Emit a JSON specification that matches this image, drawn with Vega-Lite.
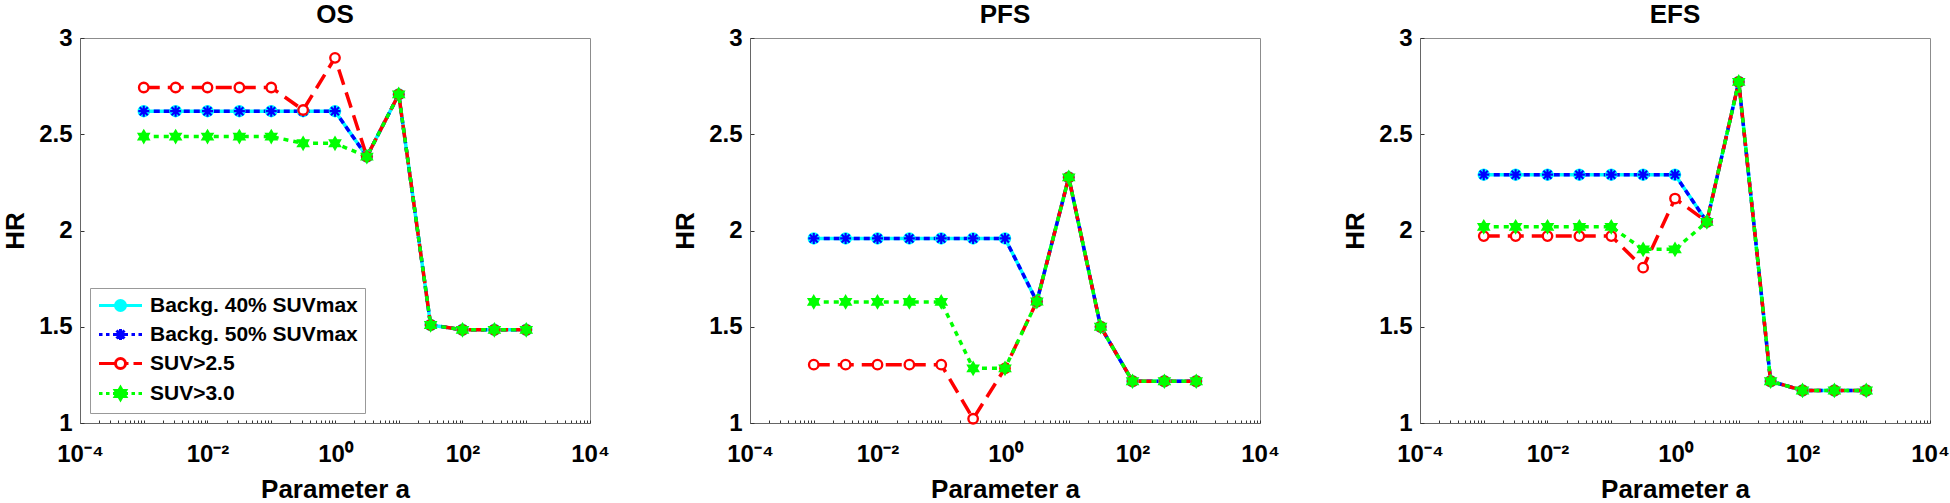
{
  "$schema": "https://vega.github.io/schema/vega-lite/v6.json",
  "padding": {"left": 2, "top": 1, "right": 5, "bottom": 2},
  "background": "white",
  "config": {
    "font": "Liberation Sans",
    "view": {"stroke": "#8c8c8c", "strokeWidth": 1},
    "axis": {"grid": false, "labelFont": "Liberation Sans", "labelFontWeight": "bold", "labelColor": "black", "titleFont": "Liberation Sans", "titleFontWeight": "bold", "titleColor": "black", "domainColor": "#666666", "tickColor": "#333333", "tickWidth": 1},
    "title": {"font": "Liberation Sans", "fontWeight": "bold", "fontSize": 26, "color": "black", "offset": -2}
  },
  "datasets": {
    "OS": [
      {"s":"Backg. 40% SUVmax","a":0.001,"hr":2.62},{"s":"Backg. 40% SUVmax","a":0.0031623,"hr":2.62},{"s":"Backg. 40% SUVmax","a":0.01,"hr":2.62},{"s":"Backg. 40% SUVmax","a":0.031623,"hr":2.62},{"s":"Backg. 40% SUVmax","a":0.1,"hr":2.62},{"s":"Backg. 40% SUVmax","a":0.31623,"hr":2.62},{"s":"Backg. 40% SUVmax","a":1,"hr":2.62},{"s":"Backg. 40% SUVmax","a":3.1623,"hr":2.384},{"s":"Backg. 40% SUVmax","a":10,"hr":2.707},{"s":"Backg. 40% SUVmax","a":31.623,"hr":1.509},{"s":"Backg. 40% SUVmax","a":100,"hr":1.484},{"s":"Backg. 40% SUVmax","a":316.23,"hr":1.484},{"s":"Backg. 40% SUVmax","a":1000,"hr":1.484},
      {"s":"Backg. 50% SUVmax","a":0.001,"hr":2.62},{"s":"Backg. 50% SUVmax","a":0.0031623,"hr":2.62},{"s":"Backg. 50% SUVmax","a":0.01,"hr":2.62},{"s":"Backg. 50% SUVmax","a":0.031623,"hr":2.62},{"s":"Backg. 50% SUVmax","a":0.1,"hr":2.62},{"s":"Backg. 50% SUVmax","a":0.31623,"hr":2.62},{"s":"Backg. 50% SUVmax","a":1,"hr":2.62},{"s":"Backg. 50% SUVmax","a":3.1623,"hr":2.384},{"s":"Backg. 50% SUVmax","a":10,"hr":2.707},{"s":"Backg. 50% SUVmax","a":31.623,"hr":1.509},{"s":"Backg. 50% SUVmax","a":100,"hr":1.484},{"s":"Backg. 50% SUVmax","a":316.23,"hr":1.484},{"s":"Backg. 50% SUVmax","a":1000,"hr":1.484},
      {"s":"SUV>2.5","a":0.001,"hr":2.743},{"s":"SUV>2.5","a":0.0031623,"hr":2.743},{"s":"SUV>2.5","a":0.01,"hr":2.743},{"s":"SUV>2.5","a":0.031623,"hr":2.743},{"s":"SUV>2.5","a":0.1,"hr":2.743},{"s":"SUV>2.5","a":0.31623,"hr":2.626},{"s":"SUV>2.5","a":1,"hr":2.897},{"s":"SUV>2.5","a":3.1623,"hr":2.384},{"s":"SUV>2.5","a":10,"hr":2.707},{"s":"SUV>2.5","a":31.623,"hr":1.509},{"s":"SUV>2.5","a":100,"hr":1.484},{"s":"SUV>2.5","a":316.23,"hr":1.484},{"s":"SUV>2.5","a":1000,"hr":1.484},
      {"s":"SUV>3.0","a":0.001,"hr":2.488},{"s":"SUV>3.0","a":0.0031623,"hr":2.488},{"s":"SUV>3.0","a":0.01,"hr":2.488},{"s":"SUV>3.0","a":0.031623,"hr":2.488},{"s":"SUV>3.0","a":0.1,"hr":2.488},{"s":"SUV>3.0","a":0.31623,"hr":2.453},{"s":"SUV>3.0","a":1,"hr":2.453},{"s":"SUV>3.0","a":3.1623,"hr":2.384},{"s":"SUV>3.0","a":10,"hr":2.707},{"s":"SUV>3.0","a":31.623,"hr":1.509},{"s":"SUV>3.0","a":100,"hr":1.484},{"s":"SUV>3.0","a":316.23,"hr":1.484},{"s":"SUV>3.0","a":1000,"hr":1.484}
    ],
    "PFS": [
      {"s":"Backg. 40% SUVmax","a":0.001,"hr":1.959},{"s":"Backg. 40% SUVmax","a":0.0031623,"hr":1.959},{"s":"Backg. 40% SUVmax","a":0.01,"hr":1.959},{"s":"Backg. 40% SUVmax","a":0.031623,"hr":1.959},{"s":"Backg. 40% SUVmax","a":0.1,"hr":1.959},{"s":"Backg. 40% SUVmax","a":0.31623,"hr":1.959},{"s":"Backg. 40% SUVmax","a":1,"hr":1.959},{"s":"Backg. 40% SUVmax","a":3.1623,"hr":1.631},{"s":"Backg. 40% SUVmax","a":10,"hr":2.276},{"s":"Backg. 40% SUVmax","a":31.623,"hr":1.5},{"s":"Backg. 40% SUVmax","a":100,"hr":1.217},{"s":"Backg. 40% SUVmax","a":316.23,"hr":1.217},{"s":"Backg. 40% SUVmax","a":1000,"hr":1.217},
      {"s":"Backg. 50% SUVmax","a":0.001,"hr":1.959},{"s":"Backg. 50% SUVmax","a":0.0031623,"hr":1.959},{"s":"Backg. 50% SUVmax","a":0.01,"hr":1.959},{"s":"Backg. 50% SUVmax","a":0.031623,"hr":1.959},{"s":"Backg. 50% SUVmax","a":0.1,"hr":1.959},{"s":"Backg. 50% SUVmax","a":0.31623,"hr":1.959},{"s":"Backg. 50% SUVmax","a":1,"hr":1.959},{"s":"Backg. 50% SUVmax","a":3.1623,"hr":1.631},{"s":"Backg. 50% SUVmax","a":10,"hr":2.276},{"s":"Backg. 50% SUVmax","a":31.623,"hr":1.5},{"s":"Backg. 50% SUVmax","a":100,"hr":1.217},{"s":"Backg. 50% SUVmax","a":316.23,"hr":1.217},{"s":"Backg. 50% SUVmax","a":1000,"hr":1.217},
      {"s":"SUV>2.5","a":0.001,"hr":1.303},{"s":"SUV>2.5","a":0.0031623,"hr":1.303},{"s":"SUV>2.5","a":0.01,"hr":1.303},{"s":"SUV>2.5","a":0.031623,"hr":1.303},{"s":"SUV>2.5","a":0.1,"hr":1.303},{"s":"SUV>2.5","a":0.31623,"hr":1.022},{"s":"SUV>2.5","a":1,"hr":1.284},{"s":"SUV>2.5","a":3.1623,"hr":1.631},{"s":"SUV>2.5","a":10,"hr":2.276},{"s":"SUV>2.5","a":31.623,"hr":1.5},{"s":"SUV>2.5","a":100,"hr":1.217},{"s":"SUV>2.5","a":316.23,"hr":1.217},{"s":"SUV>2.5","a":1000,"hr":1.217},
      {"s":"SUV>3.0","a":0.001,"hr":1.629},{"s":"SUV>3.0","a":0.0031623,"hr":1.629},{"s":"SUV>3.0","a":0.01,"hr":1.629},{"s":"SUV>3.0","a":0.031623,"hr":1.629},{"s":"SUV>3.0","a":0.1,"hr":1.629},{"s":"SUV>3.0","a":0.31623,"hr":1.284},{"s":"SUV>3.0","a":1,"hr":1.284},{"s":"SUV>3.0","a":3.1623,"hr":1.631},{"s":"SUV>3.0","a":10,"hr":2.276},{"s":"SUV>3.0","a":31.623,"hr":1.5},{"s":"SUV>3.0","a":100,"hr":1.217},{"s":"SUV>3.0","a":316.23,"hr":1.217},{"s":"SUV>3.0","a":1000,"hr":1.217}
    ],
    "EFS": [
      {"s":"Backg. 40% SUVmax","a":0.001,"hr":2.29},{"s":"Backg. 40% SUVmax","a":0.0031623,"hr":2.29},{"s":"Backg. 40% SUVmax","a":0.01,"hr":2.29},{"s":"Backg. 40% SUVmax","a":0.031623,"hr":2.29},{"s":"Backg. 40% SUVmax","a":0.1,"hr":2.29},{"s":"Backg. 40% SUVmax","a":0.31623,"hr":2.29},{"s":"Backg. 40% SUVmax","a":1,"hr":2.29},{"s":"Backg. 40% SUVmax","a":3.1623,"hr":2.045},{"s":"Backg. 40% SUVmax","a":10,"hr":2.772},{"s":"Backg. 40% SUVmax","a":31.623,"hr":1.217},{"s":"Backg. 40% SUVmax","a":100,"hr":1.169},{"s":"Backg. 40% SUVmax","a":316.23,"hr":1.169},{"s":"Backg. 40% SUVmax","a":1000,"hr":1.169},
      {"s":"Backg. 50% SUVmax","a":0.001,"hr":2.29},{"s":"Backg. 50% SUVmax","a":0.0031623,"hr":2.29},{"s":"Backg. 50% SUVmax","a":0.01,"hr":2.29},{"s":"Backg. 50% SUVmax","a":0.031623,"hr":2.29},{"s":"Backg. 50% SUVmax","a":0.1,"hr":2.29},{"s":"Backg. 50% SUVmax","a":0.31623,"hr":2.29},{"s":"Backg. 50% SUVmax","a":1,"hr":2.29},{"s":"Backg. 50% SUVmax","a":3.1623,"hr":2.045},{"s":"Backg. 50% SUVmax","a":10,"hr":2.772},{"s":"Backg. 50% SUVmax","a":31.623,"hr":1.217},{"s":"Backg. 50% SUVmax","a":100,"hr":1.169},{"s":"Backg. 50% SUVmax","a":316.23,"hr":1.169},{"s":"Backg. 50% SUVmax","a":1000,"hr":1.169},
      {"s":"SUV>2.5","a":0.001,"hr":1.971},{"s":"SUV>2.5","a":0.0031623,"hr":1.971},{"s":"SUV>2.5","a":0.01,"hr":1.971},{"s":"SUV>2.5","a":0.031623,"hr":1.971},{"s":"SUV>2.5","a":0.1,"hr":1.971},{"s":"SUV>2.5","a":0.31623,"hr":1.807},{"s":"SUV>2.5","a":1,"hr":2.166},{"s":"SUV>2.5","a":3.1623,"hr":2.045},{"s":"SUV>2.5","a":10,"hr":2.772},{"s":"SUV>2.5","a":31.623,"hr":1.217},{"s":"SUV>2.5","a":100,"hr":1.169},{"s":"SUV>2.5","a":316.23,"hr":1.169},{"s":"SUV>2.5","a":1000,"hr":1.169},
      {"s":"SUV>3.0","a":0.001,"hr":2.019},{"s":"SUV>3.0","a":0.0031623,"hr":2.019},{"s":"SUV>3.0","a":0.01,"hr":2.019},{"s":"SUV>3.0","a":0.031623,"hr":2.019},{"s":"SUV>3.0","a":0.1,"hr":2.019},{"s":"SUV>3.0","a":0.31623,"hr":1.902},{"s":"SUV>3.0","a":1,"hr":1.902},{"s":"SUV>3.0","a":3.1623,"hr":2.045},{"s":"SUV>3.0","a":10,"hr":2.772},{"s":"SUV>3.0","a":31.623,"hr":1.217},{"s":"SUV>3.0","a":100,"hr":1.169},{"s":"SUV>3.0","a":316.23,"hr":1.169},{"s":"SUV>3.0","a":1000,"hr":1.169}
    ]
  },
  "spacing": 160,
  "bounds": "flush",
  "resolve": {
    "scale": {"color": "independent"},
    "legend": {"color": "independent"}
  },
  "hconcat": [
    {
      "width": 510, "height": 385,
      "title": {"text": "OS"},
      "data": {"name": "OS"},
      "layer": [
        {
          "mark": {"type": "line", "strokeWidth": 3.5},
          "encoding": {
            "x": {"field": "a", "type": "quantitative", "title": "Parameter a", "scale": {"type": "log", "domain": [0.0001, 10000], "nice": false},
              "axis": {"values": [0.0001,0.0002,0.0003,0.0004,0.0005,0.0006,0.0007,0.0008,0.0009,0.001,0.002,0.003,0.004,0.005,0.006,0.007,0.008,0.009,0.01,0.02,0.03,0.04,0.05,0.06,0.07,0.08,0.09,0.1,0.2,0.3,0.4,0.5,0.6,0.7,0.8,0.9,1,2,3,4,5,6,7,8,9,10,20,30,40,50,60,70,80,90,100,200,300,400,500,600,700,800,900,1000,2000,3000,4000,5000,6000,7000,8000,9000,10000],
                "labelExpr": "datum.value == 0.0001 ? '10⁻⁴' : datum.value == 0.01 ? '10⁻²' : datum.value == 1 ? '10⁰' : datum.value == 100 ? '10²' : datum.value == 10000 ? '10⁴' : ''",
                "labelOverlap": false, "labelFlush": false, "tickSize": -3, "labelPadding": 22, "labelFontSize": 24, "titleFontSize": 26, "titlePadding": 10}},
            "y": {"field": "hr", "type": "quantitative", "title": "HR", "scale": {"domain": [1, 3], "nice": false},
              "axis": {"values": [1, 1.5, 2, 2.5, 3], "format": "~g", "tickSize": -4, "labelPadding": 12, "labelFontSize": 24, "titleFontSize": 26, "titlePadding": 10}},
            "color": {"field": "s", "type": "nominal",
              "scale": {"domain": ["Backg. 40% SUVmax", "Backg. 50% SUVmax", "SUV>2.5", "SUV>3.0"], "range": ["#00ffff", "#0000ff", "#ff0000", "#00ff00"]},
              "legend": {"title": null, "orient": "bottom-left", "offset": 10, "padding": 7, "strokeColor": "#999999", "fillColor": "white",
                "labelFont": "Liberation Sans", "labelFontSize": 21, "labelFontWeight": "bold", "labelColor": "black", "labelLimit": 500,
                "symbolSize": 100, "symbolStrokeWidth": 2.5, "symbolOffset": 13, "labelOffset": 19, "rowPadding": 6,
                "encode": {"symbols": {"update": {
                  "shape": {"signal": "datum.value === 'SUV>2.5' ? 'M-4.3,0L-1,0M1,0L1.6,0M2.6,0L4.3,0M-1,0A1,1,0,1,0,1,0A1,1,0,1,0,-1,0Z' : datum.value === 'SUV>3.0' ? 'M-4.3,0L-3.6,0M-2.9,0L-2.2,0M-1.5,0L-1,0M1,0L1.5,0M2.2,0L2.9,0M3.6,0L4.3,0M0,-1.2L0.35,-0.6L1.04,-0.6L0.69,0L1.04,0.6L0.35,0.6L0,1.2L-0.35,0.6L-1.04,0.6L-0.69,0L-1.04,-0.6L-0.35,-0.6Z' : datum.value === 'Backg. 50% SUVmax' ? 'M-4.3,0L-3.6,0M-2.9,0L-2.2,0M-1.5,0L-1.1,0M1.1,0L1.5,0M2.2,0L2.9,0M3.6,0L4.3,0M-1.1,0L1.1,0M0,-1.1L0,1.1M-0.8,-0.8L0.8,0.8M-0.8,0.8L0.8,-0.8' : 'M-4.3,0L4.3,0M-1,0A1,1,0,1,0,1,0A1,1,0,1,0,-1,0Z'"},
                  "fill": {"signal": "datum.value === 'SUV>2.5' ? '#ffffff' : datum.value === 'SUV>3.0' ? '#00ff00' : datum.value === 'Backg. 50% SUVmax' ? '#0000ff' : '#00ffff'"},
                  "stroke": {"signal": "datum.value === 'SUV>2.5' ? '#ff0000' : datum.value === 'SUV>3.0' ? '#00ff00' : datum.value === 'Backg. 50% SUVmax' ? '#0000ff' : '#00ffff'"},
                  "strokeWidth": {"value": 3},
                  "opacity": {"value": 1}
                }}}}},
            "strokeDash": {"field": "s", "type": "nominal",
              "scale": {"domain": ["Backg. 40% SUVmax", "Backg. 50% SUVmax", "SUV>2.5", "SUV>3.0"], "range": [[1, 0], [6, 4], [16, 8], [5, 5]]}, "legend": null}
          }
        },
        {
          "mark": {"type": "point", "filled": true, "opacity": 1},
          "encoding": {
            "x": {"field": "a", "type": "quantitative"},
            "y": {"field": "hr", "type": "quantitative"},
            "shape": {"field": "s", "type": "nominal", "legend": null,
              "scale": {"domain": ["Backg. 40% SUVmax", "Backg. 50% SUVmax", "SUV>2.5", "SUV>3.0"], "range": ["circle", "M-1.1,0L1.1,0M0,-1.1L0,1.1M-0.8,-0.8L0.8,0.8M-0.8,0.8L0.8,-0.8", "circle", "M0,-1.2L0.35,-0.6L1.04,-0.6L0.69,0L1.04,0.6L0.35,0.6L0,1.2L-0.35,0.6L-1.04,0.6L-0.69,0L-1.04,-0.6L-0.35,-0.6Z"]}},
            "size": {"field": "s", "type": "nominal", "legend": null,
              "scale": {"domain": ["Backg. 40% SUVmax", "Backg. 50% SUVmax", "SUV>2.5", "SUV>3.0"], "range": [110, 80, 70, 130]}},
            "strokeWidth": {"field": "s", "type": "nominal", "legend": null,
              "scale": {"domain": ["Backg. 40% SUVmax", "Backg. 50% SUVmax", "SUV>2.5", "SUV>3.0"], "range": [2, 2.5, 3.5, 2]}},
            "fill": {"field": "s", "type": "nominal", "legend": null,
              "scale": {"domain": ["Backg. 40% SUVmax", "Backg. 50% SUVmax", "SUV>2.5", "SUV>3.0"], "range": ["#00ffff", "#0000ff", "#ffffff", "#00ff00"]}},
            "stroke": {"field": "s", "type": "nominal", "legend": null,
              "scale": {"domain": ["Backg. 40% SUVmax", "Backg. 50% SUVmax", "SUV>2.5", "SUV>3.0"], "range": ["#00ffff", "#0000ff", "#ff0000", "#00ff00"]}}
          }
        }
      ]
    },
    {
      "width": 510, "height": 385,
      "title": {"text": "PFS"},
      "data": {"name": "PFS"},
      "layer": [
        {
          "mark": {"type": "line", "strokeWidth": 3.5},
          "encoding": {
            "x": {"field": "a", "type": "quantitative", "title": "Parameter a", "scale": {"type": "log", "domain": [0.0001, 10000], "nice": false},
              "axis": {"values": [0.0001,0.0002,0.0003,0.0004,0.0005,0.0006,0.0007,0.0008,0.0009,0.001,0.002,0.003,0.004,0.005,0.006,0.007,0.008,0.009,0.01,0.02,0.03,0.04,0.05,0.06,0.07,0.08,0.09,0.1,0.2,0.3,0.4,0.5,0.6,0.7,0.8,0.9,1,2,3,4,5,6,7,8,9,10,20,30,40,50,60,70,80,90,100,200,300,400,500,600,700,800,900,1000,2000,3000,4000,5000,6000,7000,8000,9000,10000],
                "labelExpr": "datum.value == 0.0001 ? '10⁻⁴' : datum.value == 0.01 ? '10⁻²' : datum.value == 1 ? '10⁰' : datum.value == 100 ? '10²' : datum.value == 10000 ? '10⁴' : ''",
                "labelOverlap": false, "labelFlush": false, "tickSize": -3, "labelPadding": 22, "labelFontSize": 24, "titleFontSize": 26, "titlePadding": 10}},
            "y": {"field": "hr", "type": "quantitative", "title": "HR", "scale": {"domain": [1, 3], "nice": false},
              "axis": {"values": [1, 1.5, 2, 2.5, 3], "format": "~g", "tickSize": -4, "labelPadding": 12, "labelFontSize": 24, "titleFontSize": 26, "titlePadding": 10}},
            "color": {"field": "s", "type": "nominal", "legend": null,
              "scale": {"domain": ["Backg. 40% SUVmax", "Backg. 50% SUVmax", "SUV>2.5", "SUV>3.0"], "range": ["#00ffff", "#0000ff", "#ff0000", "#00ff00"]}},
            "strokeDash": {"field": "s", "type": "nominal", "legend": null,
              "scale": {"domain": ["Backg. 40% SUVmax", "Backg. 50% SUVmax", "SUV>2.5", "SUV>3.0"], "range": [[1, 0], [6, 4], [16, 8], [5, 5]]}}
          }
        },
        {
          "mark": {"type": "point", "filled": true, "opacity": 1},
          "encoding": {
            "x": {"field": "a", "type": "quantitative"},
            "y": {"field": "hr", "type": "quantitative"},
            "shape": {"field": "s", "type": "nominal", "legend": null,
              "scale": {"domain": ["Backg. 40% SUVmax", "Backg. 50% SUVmax", "SUV>2.5", "SUV>3.0"], "range": ["circle", "M-1.1,0L1.1,0M0,-1.1L0,1.1M-0.8,-0.8L0.8,0.8M-0.8,0.8L0.8,-0.8", "circle", "M0,-1.2L0.35,-0.6L1.04,-0.6L0.69,0L1.04,0.6L0.35,0.6L0,1.2L-0.35,0.6L-1.04,0.6L-0.69,0L-1.04,-0.6L-0.35,-0.6Z"]}},
            "size": {"field": "s", "type": "nominal", "legend": null,
              "scale": {"domain": ["Backg. 40% SUVmax", "Backg. 50% SUVmax", "SUV>2.5", "SUV>3.0"], "range": [110, 80, 70, 130]}},
            "strokeWidth": {"field": "s", "type": "nominal", "legend": null,
              "scale": {"domain": ["Backg. 40% SUVmax", "Backg. 50% SUVmax", "SUV>2.5", "SUV>3.0"], "range": [2, 2.5, 3.5, 2]}},
            "fill": {"field": "s", "type": "nominal", "legend": null,
              "scale": {"domain": ["Backg. 40% SUVmax", "Backg. 50% SUVmax", "SUV>2.5", "SUV>3.0"], "range": ["#00ffff", "#0000ff", "#ffffff", "#00ff00"]}},
            "stroke": {"field": "s", "type": "nominal", "legend": null,
              "scale": {"domain": ["Backg. 40% SUVmax", "Backg. 50% SUVmax", "SUV>2.5", "SUV>3.0"], "range": ["#00ffff", "#0000ff", "#ff0000", "#00ff00"]}}
          }
        }
      ]
    },
    {
      "width": 510, "height": 385,
      "title": {"text": "EFS"},
      "data": {"name": "EFS"},
      "layer": [
        {
          "mark": {"type": "line", "strokeWidth": 3.5},
          "encoding": {
            "x": {"field": "a", "type": "quantitative", "title": "Parameter a", "scale": {"type": "log", "domain": [0.0001, 10000], "nice": false},
              "axis": {"values": [0.0001,0.0002,0.0003,0.0004,0.0005,0.0006,0.0007,0.0008,0.0009,0.001,0.002,0.003,0.004,0.005,0.006,0.007,0.008,0.009,0.01,0.02,0.03,0.04,0.05,0.06,0.07,0.08,0.09,0.1,0.2,0.3,0.4,0.5,0.6,0.7,0.8,0.9,1,2,3,4,5,6,7,8,9,10,20,30,40,50,60,70,80,90,100,200,300,400,500,600,700,800,900,1000,2000,3000,4000,5000,6000,7000,8000,9000,10000],
                "labelExpr": "datum.value == 0.0001 ? '10⁻⁴' : datum.value == 0.01 ? '10⁻²' : datum.value == 1 ? '10⁰' : datum.value == 100 ? '10²' : datum.value == 10000 ? '10⁴' : ''",
                "labelOverlap": false, "labelFlush": false, "tickSize": -3, "labelPadding": 22, "labelFontSize": 24, "titleFontSize": 26, "titlePadding": 10}},
            "y": {"field": "hr", "type": "quantitative", "title": "HR", "scale": {"domain": [1, 3], "nice": false},
              "axis": {"values": [1, 1.5, 2, 2.5, 3], "format": "~g", "tickSize": -4, "labelPadding": 12, "labelFontSize": 24, "titleFontSize": 26, "titlePadding": 10}},
            "color": {"field": "s", "type": "nominal", "legend": null,
              "scale": {"domain": ["Backg. 40% SUVmax", "Backg. 50% SUVmax", "SUV>2.5", "SUV>3.0"], "range": ["#00ffff", "#0000ff", "#ff0000", "#00ff00"]}},
            "strokeDash": {"field": "s", "type": "nominal", "legend": null,
              "scale": {"domain": ["Backg. 40% SUVmax", "Backg. 50% SUVmax", "SUV>2.5", "SUV>3.0"], "range": [[1, 0], [6, 4], [16, 8], [5, 5]]}}
          }
        },
        {
          "mark": {"type": "point", "filled": true, "opacity": 1},
          "encoding": {
            "x": {"field": "a", "type": "quantitative"},
            "y": {"field": "hr", "type": "quantitative"},
            "shape": {"field": "s", "type": "nominal", "legend": null,
              "scale": {"domain": ["Backg. 40% SUVmax", "Backg. 50% SUVmax", "SUV>2.5", "SUV>3.0"], "range": ["circle", "M-1.1,0L1.1,0M0,-1.1L0,1.1M-0.8,-0.8L0.8,0.8M-0.8,0.8L0.8,-0.8", "circle", "M0,-1.2L0.35,-0.6L1.04,-0.6L0.69,0L1.04,0.6L0.35,0.6L0,1.2L-0.35,0.6L-1.04,0.6L-0.69,0L-1.04,-0.6L-0.35,-0.6Z"]}},
            "size": {"field": "s", "type": "nominal", "legend": null,
              "scale": {"domain": ["Backg. 40% SUVmax", "Backg. 50% SUVmax", "SUV>2.5", "SUV>3.0"], "range": [110, 80, 70, 130]}},
            "strokeWidth": {"field": "s", "type": "nominal", "legend": null,
              "scale": {"domain": ["Backg. 40% SUVmax", "Backg. 50% SUVmax", "SUV>2.5", "SUV>3.0"], "range": [2, 2.5, 3.5, 2]}},
            "fill": {"field": "s", "type": "nominal", "legend": null,
              "scale": {"domain": ["Backg. 40% SUVmax", "Backg. 50% SUVmax", "SUV>2.5", "SUV>3.0"], "range": ["#00ffff", "#0000ff", "#ffffff", "#00ff00"]}},
            "stroke": {"field": "s", "type": "nominal", "legend": null,
              "scale": {"domain": ["Backg. 40% SUVmax", "Backg. 50% SUVmax", "SUV>2.5", "SUV>3.0"], "range": ["#00ffff", "#0000ff", "#ff0000", "#00ff00"]}}
          }
        }
      ]
    }
  ]
}
